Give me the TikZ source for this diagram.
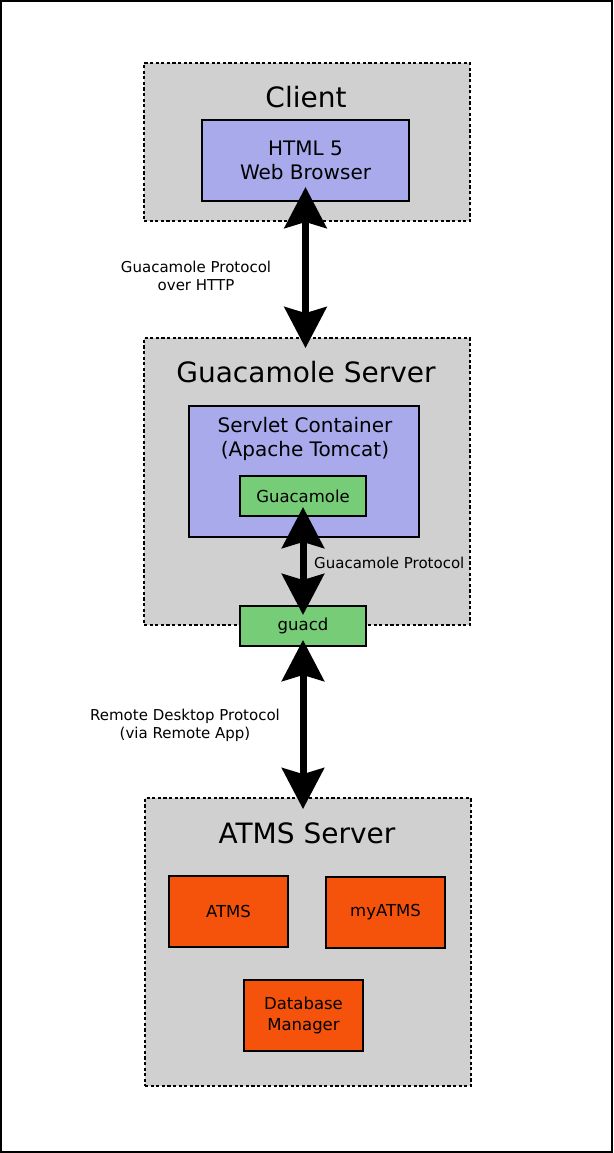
\documentclass[tikz,border=0pt]{standalone}
\usepackage{fontspec}
\setmainfont{DejaVu Sans}
\usetikzlibrary{arrows.meta}
\definecolor{grayfill}{HTML}{D0D0D0}
\definecolor{lavfill}{HTML}{A8AAEC}
\definecolor{greenfill}{HTML}{77CC77}
\definecolor{orangefill}{HTML}{F5520C}
\tikzset{
  container/.style={draw=black, fill=grayfill, dash pattern=on 3.2pt off 2.4pt, line width=1.8pt, minimum width=326pt, inner sep=0pt},
  lavbox/.style={draw=black, fill=lavfill, line width=2pt, inner sep=0pt},
  greenbox/.style={draw=black, fill=greenfill, line width=2pt, minimum width=126pt, minimum height=40pt, inner sep=0pt, font=\fontsize{16.5}{20}\selectfont},
  orangebox/.style={draw=black, fill=orangefill, line width=2pt, minimum width=119pt, minimum height=71pt, inner sep=0pt, align=center, font=\fontsize{16.5}{21}\selectfont},
  titletext/.style={inner sep=0pt, anchor=base, font=\fontsize{28}{32}\selectfont},
  boxtext/.style={inner sep=0pt, align=center, font=\fontsize{20}{24.5}\selectfont},
  labeltext/.style={inner sep=0pt, align=center, font=\fontsize{15}{18}\selectfont},
  bigarrow/.style={line width=7pt, {Stealth[length=41pt,width=42pt,inset=6pt]}-{Stealth[length=41pt,width=42pt,inset=6pt]}}
}
\begin{document}
\begin{tikzpicture}[x=1pt,y=-1pt]
\useasboundingbox (0,0) rectangle (613,1153);
\draw[line width=2pt] (1,1) rectangle (612,1152);

% Client
\node[container, minimum height=158pt] (client) at (307,142) {};
\node[titletext] (clienttitle) at (306,108) {Client};
\node[lavbox, minimum width=207pt, minimum height=81pt, boxtext] (html) at (305.5,160.5) {HTML 5\\Web Browser};

% Guacamole Server
\node[container, minimum height=287pt] (gserver) at (307,481.5) {};
\node[titletext] (gservertitle) at (306,382) {Guacamole Server};
\node[lavbox, minimum width=230pt, minimum height=131pt] (servlet) at (304,471.5) {};
\node[boxtext, anchor=north] (servlettitle) at (305,417) {Servlet Container\\(Apache Tomcat)};
\node[greenbox] (guac) at (303,496) {Guacamole};
\node[greenbox] (guacd) at (303,626) {guacd};

% ATMS Server
\node[container, minimum height=288pt] (aserver) at (308,942) {};
\node[titletext] (aservertitle) at (307,843) {ATMS Server};
\node[orangebox] (atms) at (228.5,911.5) {ATMS};
\node[orangebox] (myatms) at (385.5,912.5) {myATMS};
\node[orangebox] (db) at (303.5,1015.5) {Database\\Manager};

% Arrows
\draw[bigarrow] ([yshift=15pt]html.south) -- ([yshift=-11pt]html.south |- gserver.north);
\draw[bigarrow] ([yshift=10pt]guac.south) -- ([yshift=-10pt]guacd.north);
\draw[bigarrow] ([yshift=7pt]guacd.south) -- ([yshift=-12pt]guacd.south |- aserver.north);

% Labels
\node[labeltext] (lbl1) at (196,276) {Guacamole Protocol\\over HTTP};
\node[labeltext, anchor=base west] (lbl2) at (314,568) {Guacamole Protocol};
\node[labeltext] (lbl3) at (185,725) {Remote Desktop Protocol\\(via Remote App)};
\end{tikzpicture}
\end{document}
